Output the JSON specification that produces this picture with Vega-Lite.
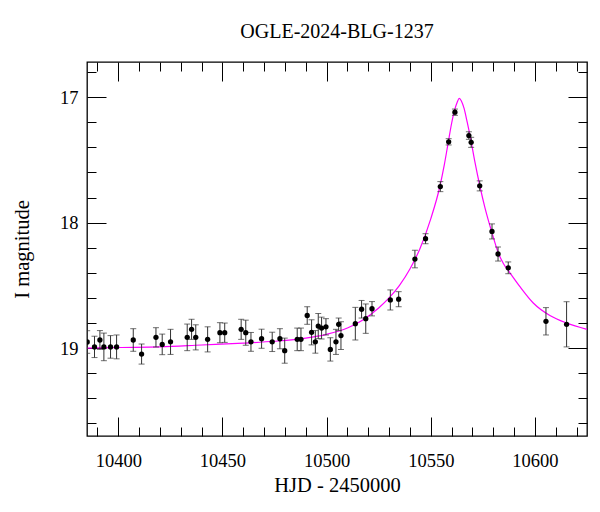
{
  "$schema": "https://vega.github.io/schema/vega-lite/v6.json",
  "width": 500,
  "height": 374,
  "autosize": {"type": "none"},
  "padding": {"left": 87, "top": 62, "right": 13, "bottom": 76},
  "background": "white",
  "title": {"text": "OGLE-2024-BLG-1237", "font": "Liberation Serif", "fontSize": 20, "fontWeight": "normal", "color": "black", "anchor": "middle", "offset": 4, "baseline": "alphabetic"},
  "config": {
    "view": {"stroke": "black", "strokeWidth": 1.3},
    "axis": {"domain": false, "grid": false, "tickColor": "black", "tickWidth": 1, "labelFont": "Liberation Serif", "labelFontSize": 18.5, "labelColor": "black", "titleFont": "Liberation Serif", "titleFontSize": 20.5, "titleFontWeight": "normal", "titleColor": "black", "labelOverlap": false, "labelFlush": false}
  },
  "datasets": {
    "model": [
      {"t": 10385, "m": 19.0}, {"t": 10400, "m": 18.995}, {"t": 10420, "m": 18.99}, {"t": 10440, "m": 18.975},
      {"t": 10460, "m": 18.96}, {"t": 10475, "m": 18.945}, {"t": 10490, "m": 18.92}, {"t": 10500, "m": 18.89},
      {"t": 10510, "m": 18.84}, {"t": 10517, "m": 18.78}, {"t": 10525, "m": 18.68}, {"t": 10530, "m": 18.6},
      {"t": 10535, "m": 18.5}, {"t": 10540, "m": 18.37}, {"t": 10545, "m": 18.2}, {"t": 10550, "m": 17.97},
      {"t": 10554.4, "m": 17.71}, {"t": 10556.5, "m": 17.54}, {"t": 10558.4, "m": 17.36}, {"t": 10560, "m": 17.21},
      {"t": 10561.5, "m": 17.1}, {"t": 10562.7, "m": 17.04}, {"t": 10563.7, "m": 17.01}, {"t": 10564.7, "m": 17.03},
      {"t": 10566, "m": 17.09}, {"t": 10567.5, "m": 17.2}, {"t": 10569, "m": 17.32}, {"t": 10571, "m": 17.5},
      {"t": 10573.6, "m": 17.71}, {"t": 10576, "m": 17.88}, {"t": 10579.2, "m": 18.07}, {"t": 10582.4, "m": 18.24},
      {"t": 10585, "m": 18.33}, {"t": 10588, "m": 18.4}, {"t": 10592.8, "m": 18.51}, {"t": 10599.2, "m": 18.64},
      {"t": 10607.2, "m": 18.74}, {"t": 10615.2, "m": 18.8}, {"t": 10625, "m": 18.85}
    ],
    "obs": [
      {"t": 10385.1, "mag": 18.951, "err": 0.09}, {"t": 10388.6, "mag": 18.99, "err": 0.085},
      {"t": 10391.2, "mag": 18.935, "err": 0.075}, {"t": 10393.1, "mag": 18.99, "err": 0.11},
      {"t": 10396.3, "mag": 18.99, "err": 0.09}, {"t": 10399.2, "mag": 18.99, "err": 0.095},
      {"t": 10407.2, "mag": 18.935, "err": 0.09}, {"t": 10411.2, "mag": 19.047, "err": 0.08},
      {"t": 10418.1, "mag": 18.914, "err": 0.077}, {"t": 10421.1, "mag": 18.97, "err": 0.082},
      {"t": 10425.1, "mag": 18.95, "err": 0.1}, {"t": 10433.1, "mag": 18.914, "err": 0.106},
      {"t": 10435.2, "mag": 18.85, "err": 0.08}, {"t": 10437.2, "mag": 18.914, "err": 0.1},
      {"t": 10442.9, "mag": 18.93, "err": 0.1}, {"t": 10448.8, "mag": 18.877, "err": 0.08},
      {"t": 10451.1, "mag": 18.877, "err": 0.077}, {"t": 10459.0, "mag": 18.85, "err": 0.08},
      {"t": 10461.2, "mag": 18.877, "err": 0.1}, {"t": 10463.7, "mag": 18.95, "err": 0.075},
      {"t": 10468.8, "mag": 18.925, "err": 0.076}, {"t": 10473.9, "mag": 18.95, "err": 0.077},
      {"t": 10477.6, "mag": 18.925, "err": 0.08}, {"t": 10479.9, "mag": 19.02, "err": 0.1},
      {"t": 10485.9, "mag": 18.93, "err": 0.09}, {"t": 10487.7, "mag": 18.93, "err": 0.09},
      {"t": 10490.7, "mag": 18.74, "err": 0.07}, {"t": 10492.8, "mag": 18.874, "err": 0.1},
      {"t": 10494.6, "mag": 18.95, "err": 0.09}, {"t": 10496.0, "mag": 18.824, "err": 0.1},
      {"t": 10497.6, "mag": 18.84, "err": 0.087}, {"t": 10499.7, "mag": 18.83, "err": 0.065},
      {"t": 10501.8, "mag": 19.01, "err": 0.093}, {"t": 10504.5, "mag": 18.95, "err": 0.1},
      {"t": 10505.8, "mag": 18.81, "err": 0.05}, {"t": 10506.9, "mag": 18.9, "err": 0.11},
      {"t": 10513.8, "mag": 18.805, "err": 0.13}, {"t": 10516.8, "mag": 18.69, "err": 0.07},
      {"t": 10518.8, "mag": 18.765, "err": 0.117}, {"t": 10521.8, "mag": 18.686, "err": 0.057},
      {"t": 10530.6, "mag": 18.616, "err": 0.08}, {"t": 10534.6, "mag": 18.61, "err": 0.06},
      {"t": 10542.4, "mag": 18.29, "err": 0.07}, {"t": 10547.5, "mag": 18.128, "err": 0.04},
      {"t": 10554.6, "mag": 17.713, "err": 0.04}, {"t": 10558.6, "mag": 17.356, "err": 0.025},
      {"t": 10561.6, "mag": 17.12, "err": 0.025}, {"t": 10568.3, "mag": 17.306, "err": 0.03},
      {"t": 10569.4, "mag": 17.36, "err": 0.04}, {"t": 10573.5, "mag": 17.707, "err": 0.04},
      {"t": 10579.4, "mag": 18.07, "err": 0.06}, {"t": 10582.3, "mag": 18.25, "err": 0.056},
      {"t": 10587.2, "mag": 18.36, "err": 0.047}, {"t": 10605.3, "mag": 18.786, "err": 0.109},
      {"t": 10615.2, "mag": 18.81, "err": 0.18}
    ]
  },
  "layer": [
    {
      "data": {"name": "model"},
      "mark": {"type": "line", "color": "#ff00ff", "strokeWidth": 1.2, "interpolate": "monotone", "clip": true},
      "encoding": {
        "x": {"field": "t", "type": "quantitative",
          "scale": {"domain": [10385, 10625], "nice": false, "zero": false},
          "axis": {"orient": "bottom", "title": "HJD - 2450000", "titlePadding": -4,
            "values": [10390,10400,10410,10420,10430,10440,10450,10460,10470,10480,10490,10500,10510,10520,10530,10540,10550,10560,10570,10580,10590,10600,10610,10620],
            "labelExpr": "datum.value % 50 === 0 ? format(datum.value, 'd') : ''",
            "tickSize": {"condition": {"test": "datum.value % 50 === 0", "value": -19}, "value": -9},
            "labelPadding": 34}},
        "y": {"field": "m", "type": "quantitative",
          "scale": {"domain": [16.72, 19.7], "reverse": true, "nice": false, "zero": false},
          "axis": {"orient": "left", "title": "I magnitude", "titlePadding": 27,
            "values": [16.8,17,17.2,17.4,17.6,17.8,18,18.2,18.4,18.6,18.8,19,19.2,19.4,19.6],
            "labelExpr": "abs(datum.value - round(datum.value)) < 0.001 ? format(datum.value, 'd') : ''",
            "tickSize": {"condition": {"test": "abs(datum.value - round(datum.value)) < 0.001", "value": -19}, "value": -9},
            "labelPadding": 28}}
      }
    },
    {
      "data": {"name": "obs"},
      "mark": {"type": "errorbar", "color": "#333333", "thickness": 1, "ticks": {"size": 6}, "clip": true},
      "encoding": {
        "x": {"field": "t", "type": "quantitative",
          "axis": {"orient": "top", "title": null, "labels": false,
            "values": [10390,10400,10410,10420,10430,10440,10450,10460,10470,10480,10490,10500,10510,10520,10530,10540,10550,10560,10570,10580,10590,10600,10610,10620],
            "tickSize": {"condition": {"test": "datum.value % 50 === 0", "value": -19}, "value": -9}}},
        "y": {"field": "mag", "type": "quantitative",
          "axis": {"orient": "right", "title": null, "labels": false,
            "values": [16.8,17,17.2,17.4,17.6,17.8,18,18.2,18.4,18.6,18.8,19,19.2,19.4,19.6],
            "tickSize": {"condition": {"test": "abs(datum.value - round(datum.value)) < 0.001", "value": -19}, "value": -9}}},
        "yError": {"field": "err"}
      }
    },
    {
      "data": {"name": "obs"},
      "mark": {"type": "point", "filled": true, "color": "black", "size": 28, "opacity": 1, "clip": true},
      "encoding": {
        "x": {"field": "t", "type": "quantitative", "axis": null},
        "y": {"field": "mag", "type": "quantitative", "axis": null}
      }
    }
  ],
  "resolve": {"axis": {"x": "independent", "y": "independent"}}
}
